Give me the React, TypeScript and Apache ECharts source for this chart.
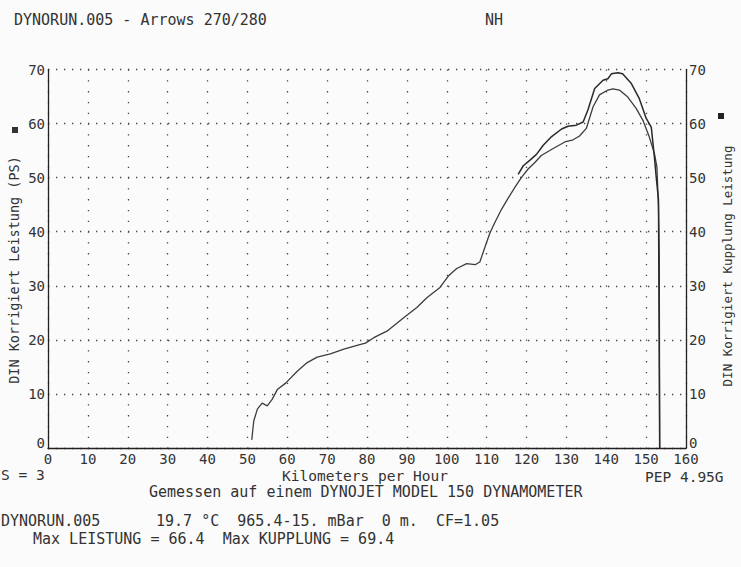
import React, { useEffect, useRef } from "react";
import * as echarts from "echarts";

// Leistung (wheel power, PS) vs speed (km/h)
const leistungKmh = [
  51.1, 51.6, 52.5, 53.7, 55.0, 56.2, 57.5, 59.6, 62.5, 65.0, 67.5, 70.8, 74.2, 77.5, 79.6,
  81.7, 85.0, 89.2, 92.5, 95.0, 98.3, 100.4, 102.5, 105.0, 107.1, 108.3, 109.5, 110.8, 112.0,
  113.7, 115.4, 117.0, 118.7, 120.4, 122.1, 123.7, 126.7, 129.6, 131.7, 133.3, 135.0, 136.7,
  138.3, 140.4, 141.7, 143.3, 145.4, 147.5, 149.2, 150.8, 152.1, 152.7, 153.1, 153.3, 153.4,
];
const leistungPs = [
  1.5, 5.0, 7.2, 8.3, 7.8, 9.0, 10.8, 12.0, 14.2, 15.8, 16.8, 17.4, 18.3, 19.0, 19.4,
  20.4, 21.6, 24.1, 26.0, 27.8, 29.7, 31.8, 33.2, 34.1, 33.9, 34.4, 37.0, 39.7, 41.6,
  44.1, 46.2, 48.1, 50.0, 51.6, 52.8, 54.1, 55.4, 56.6, 57.0, 57.7, 59.1, 63.1,
  65.3, 66.2, 66.4, 66.2, 64.9, 62.8, 60.6, 57.5, 54.4, 52.0, 44.6, 35.3, 0,
];

// Kupplung (clutch power, PS) vs speed (km/h)
const kupplungKmh = [
  117.9, 119.2, 120.8, 122.5, 124.2, 126.3, 128.8, 130.4, 132.5, 134.2, 135.4, 137.1, 139.2,
  140.4, 141.3, 142.9, 144.1, 146.3, 148.3, 150.0, 151.3, 152.1, 152.5, 153.1, 153.4,
];
const kupplungPs = [
  50.6, 52.2, 53.2, 54.3, 56.0, 57.6, 59.0, 59.5, 59.7, 60.3, 62.5, 66.5, 68.0,
  68.3, 69.2, 69.4, 69.2, 67.4, 64.6, 61.0, 59.3, 53.6, 50.3, 45.9, 0,
];

const xTicks = { min: 0, max: 160, interval: 10 };
const yTicks = { min: 0, max: 70, interval: 10 };

const FONT = "DejaVu Sans Mono";
const INK = "#333";

export default function App() {
  const ref = useRef<HTMLDivElement>(null);

  useEffect(() => {
    if (!ref.current) return;
    const chart = echarts.init(ref.current, null, { renderer: "svg" });

    const leistung = leistungKmh.map((x, i) => [x, leistungPs[i]]);
    const kupplung = kupplungKmh.map((x, i) => [x, kupplungPs[i]]);

    const txt = (text: string, x: number, y: number, size = 15, align = "left", extra: any = {}) => ({
      type: "text",
      x,
      y,
      silent: true,
      ...extra,
      style: {
        text,
        fill: INK,
        font: `${size}px "${FONT}"`,
        textAlign: align,
        textVerticalAlign: "middle",
      },
    });

    const yAxisBase = (pos: "left" | "right") => ({
      type: "value",
      position: pos,
      min: yTicks.min,
      max: yTicks.max,
      interval: yTicks.interval,
      axisLine: { show: true, lineStyle: { color: "#222", width: 1.3 } },
      axisTick: { show: false },
      axisLabel: {
        color: INK,
        fontFamily: FONT,
        fontSize: 14,
        margin: 3,
        formatter: (v: number) => (v === 0 ? "{z|0}" : String(v)),
        rich: {
          z: { fontFamily: FONT, fontSize: 14, color: INK, padding: [0, 0, 10, 0] },
        },
      },
      splitLine:
        pos === "left"
          ? { show: true, lineStyle: { color: "#444", width: 1.3, type: [1.3, 6.7] } }
          : { show: false },
    });

    chart.setOption({
      animation: false,
      backgroundColor: "#fbfbfb",
      grid: { left: 48, right: 55, top: 69.5, bottom: 119, containLabel: false },
      xAxis: {
        type: "value",
        min: xTicks.min,
        max: xTicks.max,
        interval: xTicks.interval,
        axisLine: { show: true, onZero: false, lineStyle: { color: "#222", width: 1.3 } },
        axisTick: { show: false },
        axisLabel: { color: INK, fontFamily: FONT, fontSize: 14, margin: 4 },
        splitLine: { show: true, lineStyle: { color: "#444", width: 1.3, type: [1.3, 9.5] } },
      },
      yAxis: [yAxisBase("left"), yAxisBase("right")],
      series: [
        {
          name: "Leistung",
          type: "line",
          data: leistung,
          showSymbol: false,
          symbol: "none",
          lineStyle: { color: "#3d3d3d", width: 1.3 },
          yAxisIndex: 0,
        },
        {
          name: "Kupplung",
          type: "line",
          data: kupplung,
          showSymbol: false,
          symbol: "none",
          lineStyle: { color: "#2a2a2a", width: 1.5 },
          yAxisIndex: 1,
        },
      ],
      graphic: [
        txt("DYNORUN.005 - Arrows 270/280", 14, 20),
        txt("NH", 485, 20),
        txt("DIN Korrigiert Leistung (PS)", 14, 270, 13.5, "center", { rotation: Math.PI / 2 }),
        txt("DIN Korrigiert Kupplung Leistung", 727, 266, 12.5, "center", { rotation: Math.PI / 2 }),
        { type: "rect", shape: { x: 12, y: 127, width: 6, height: 6 }, style: { fill: "#333" }, silent: true },
        { type: "rect", shape: { x: 718, y: 113, width: 6, height: 6 }, style: { fill: "#222" }, silent: true },
        txt("S = 3", 1, 475, 14.5),
        txt("Kilometers per Hour", 282, 476, 14.5),
        txt("PEP 4.95G", 645, 477, 14.5),
        txt("Gemessen auf einem DYNOJET MODEL 150 DYNAMOMETER", 149, 492, 15),
        txt("DYNORUN.005", 1, 521, 15),
        txt("19.7 °C  965.4-15. mBar  0 m.  CF=1.05", 156, 521, 15),
        txt("Max LEISTUNG = 66.4  Max KUPPLUNG = 69.4", 33, 539, 15),
      ],
    });

    return () => chart.dispose();
  }, []);

  return (
    <div
      ref={ref}
      style={{ position: "fixed", left: 0, top: 0, width: 741, height: 567 }}
    />
  );
}
